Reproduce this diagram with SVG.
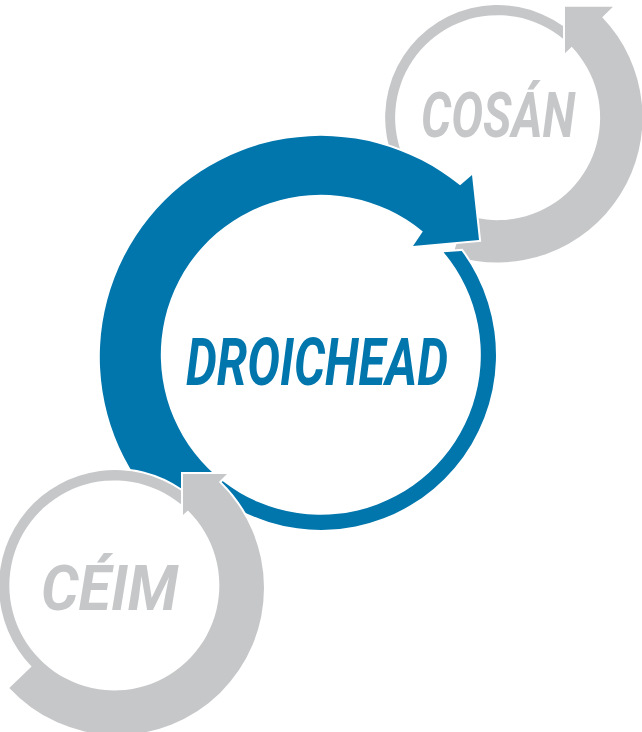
<svg xmlns="http://www.w3.org/2000/svg" width="642" height="732" viewBox="0 0 642 732">
  <style>
    .grey { fill: #c6c7c9; stroke: #ffffff; stroke-width: 4; paint-order: stroke; stroke-linejoin: miter; }
    .blue { fill: #0076ad; stroke: #ffffff; stroke-width: 4; paint-order: stroke; stroke-linejoin: miter; }
    .lbl { font-family: Roboto, "Liberation Sans", sans-serif; font-weight: 700; font-style: italic; }
    .lbl-grey { fill: #c6c7c9; }
    .lbl-blue { fill: #0076ad; }
  </style>
  <rect width="642" height="732" fill="#ffffff"/>
  <g id="cosan">
    <path class="grey" d="M 563 26 A 112.5 112.5 0 1 0 462.7 224.5 L 452.7 255.4 A 145 145 0 0 0 602.2 17.2 L 613 6.7 L 565 6.7 L 565 53.3 L 571.7 46.8 A 102.5 102.5 0 1 1 563 38.7 Z"/>
    <text class="lbl lbl-grey" x="421" y="136.7" font-size="62" textLength="154" lengthAdjust="spacingAndGlyphs">COSÁN</text>
  </g>
  <g id="droichead">
    <path class="blue" d="M 443.6 252.2 A 160 160 0 1 1 422.8 231.5 L 413 246 L 479 240 L 472 175 L 460.1 185.3 A 221 221 0 1 0 220.7 553.9 L 241.6 510.9 A 175 175 0 0 0 461.7 250.9 Z"/>
    <text class="lbl lbl-blue" x="186" y="385" font-size="67" textLength="262" lengthAdjust="spacingAndGlyphs">DROICHEAD</text>
  </g>
  <g id="ceim">
    <circle cx="115" cy="586" r="105" fill="#ffffff"/>
    <path class="grey" d="M 181 490.6 A 116 116 0 0 0 31.6 666.6 L 9.3 688.1 A 147 147 0 1 0 218.9 482.1 L 227 474 L 183 474 L 183 515 L 187.9 510.5 A 105 105 0 1 1 181 504.3 Z"/>
    <text class="lbl lbl-grey" x="41" y="610" font-size="62" textLength="137" lengthAdjust="spacingAndGlyphs">CÉIM</text>
  </g>
  <g id="connectors"></g>
</svg>
